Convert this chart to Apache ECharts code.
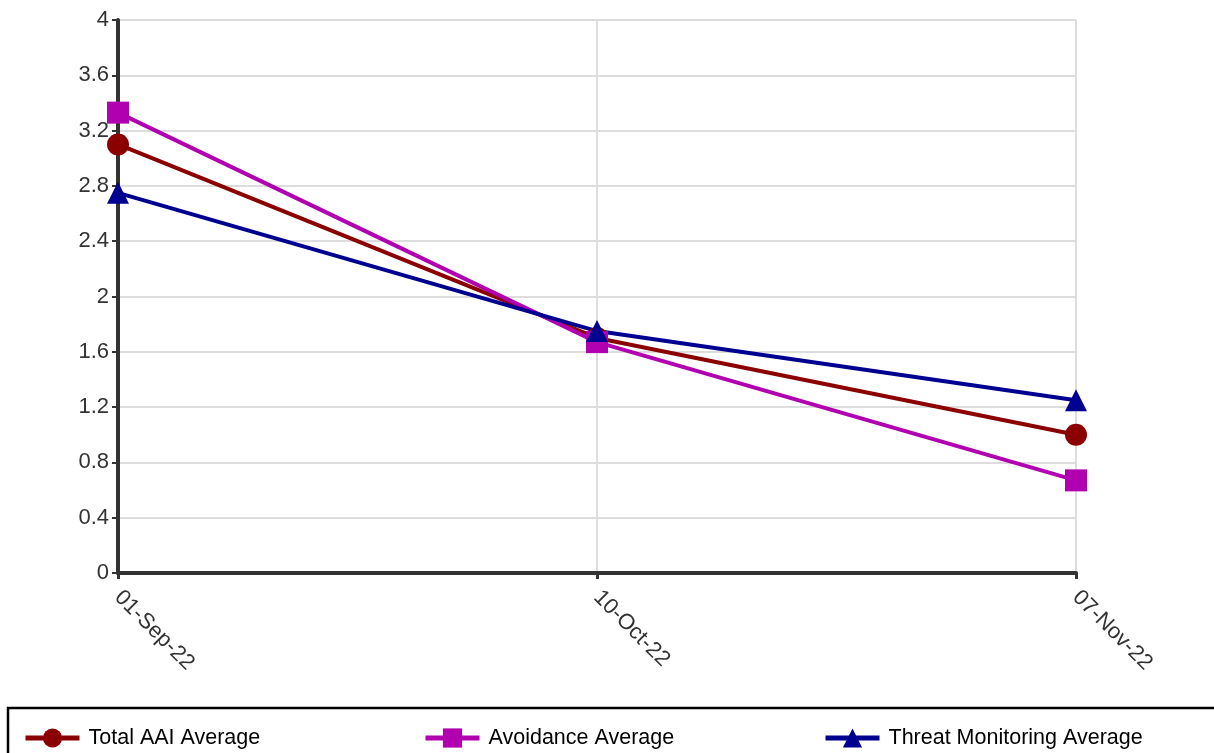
<!DOCTYPE html>
<html>
<head>
<meta charset="utf-8">
<script src="https://cdn.jsdelivr.net/npm/echarts@6/dist/echarts.min.js"></script>
<style>html,body{margin:0;padding:0;background:#fff;}#c{width:1214px;height:753px;}</style>
</head>
<body>
<div id="c"></div>
<script>
var categories = ['01-Sep-22', '10-Oct-22', '07-Nov-22'];
var totalAAI = [3.1, 1.7, 1.0];
var avoidance = [3.33, 1.67, 0.67];
var threat = [2.75, 1.75, 1.25];
var seriesNames = ['Total AAI Average', 'Avoidance Average', 'Threat Monitoring Average'];
var colors = ['#8b0000', '#b000b0', '#000090'];

var chart = echarts.init(document.getElementById('c'));
var font = '"Liberation Sans", Arial, sans-serif';
function legendAt(i, left) {
  return {
    data: [seriesNames[i]],
    left: left, top: 722,
    itemWidth: 54, itemHeight: 24,
    lineStyle: {width: 5},
    textStyle: {fontSize: 21.5, color: '#000', fontFamily: font, padding: [3, 0, 0, 4]},
    selectedMode: false
  };
}
chart.setOption({
  animation: false,
  color: colors,
  grid: {left: 118, right: 138, top: 20, bottom: 180, containLabel: false},
  graphic: [{
    type: 'rect',
    shape: {x: 8, y: 708, width: 1240, height: 80},
    style: {fill: 'none', stroke: '#000', lineWidth: 2.5}
  }],
  legend: [legendAt(0, 18), legendAt(1, 418), legendAt(2, 818)],
  xAxis: {
    type: 'category',
    data: categories,
    boundaryGap: false,
    axisLine: {lineStyle: {color: '#333', width: 4}},
    axisTick: {show: true, length: 6, lineStyle: {color: '#333', width: 3}},
    axisLabel: {rotate: -45, fontSize: 22, color: '#333', fontFamily: font, margin: 21},
    splitLine: {show: true, lineStyle: {color: '#ddd', width: 2}}
  },
  yAxis: {
    type: 'value',
    min: 0, max: 4, interval: 0.4,
    axisLine: {show: true, lineStyle: {color: '#333', width: 4}},
    axisTick: {show: true, length: 6, lineStyle: {color: '#333', width: 2}},
    axisLabel: {fontSize: 22, color: '#333', fontFamily: font, margin: 9,
      formatter: function (v) { return String(Math.round(v * 10) / 10); }},
    splitLine: {show: true, lineStyle: {color: '#ddd', width: 2}}
  },
  series: [
    {name: seriesNames[0], type: 'line', data: totalAAI, symbol: 'circle', symbolSize: 22,
      lineStyle: {width: 4, color: colors[0]}, itemStyle: {color: colors[0]}},
    {name: seriesNames[1], type: 'line', data: avoidance, symbol: 'rect', symbolSize: 22,
      lineStyle: {width: 4, color: colors[1]}, itemStyle: {color: colors[1]}},
    {name: seriesNames[2], type: 'line', data: threat, symbol: 'triangle', symbolSize: 22,
      lineStyle: {width: 4, color: colors[2]}, itemStyle: {color: colors[2]}}
  ]
});
</script>
</body>
</html>
